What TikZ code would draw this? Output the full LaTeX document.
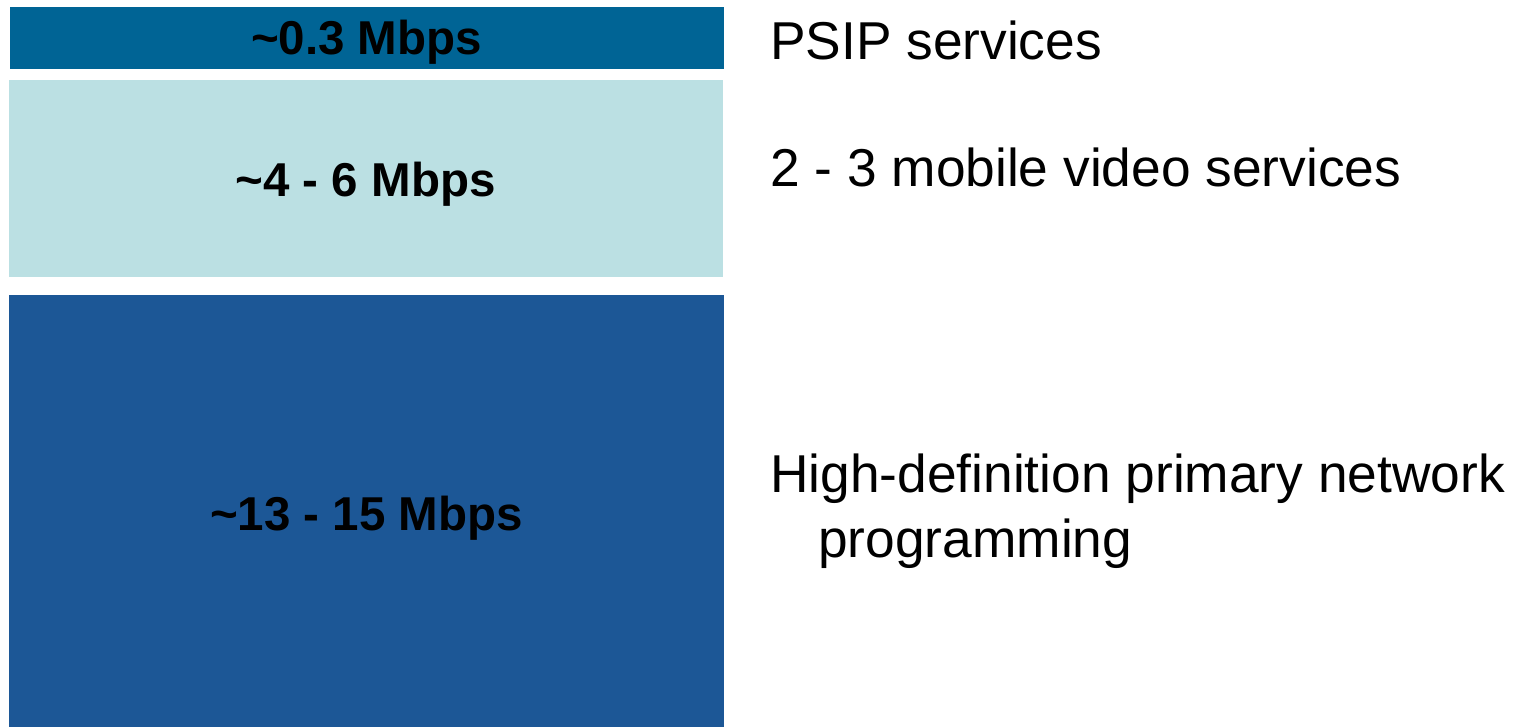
\documentclass[tikz,border=0pt]{standalone}
\usepackage{fontspec}
\setmainfont{Liberation Sans}
\usetikzlibrary{positioning}

\definecolor{psipblue}{RGB}{0,100,149}
\definecolor{mobilecyan}{RGB}{187,224,227}
\definecolor{hdblue}{RGB}{28,87,150}

\begin{document}
\begin{tikzpicture}[x=1pt, y=-1pt, rate/.style={font=\fontsize{47.5}{57}\selectfont\bfseries, text=black, anchor=base, inner sep=0}, service/.style={font=\fontsize{53.3}{64}\selectfont, text=black, anchor=base west, inner sep=0}]
				\useasboundingbox (0,0) rectangle (1514,727);
				% stacked bit-rate bands
				\fill[psipblue] (10,7) rectangle (724,69);
				\fill[mobilecyan] (9,80) rectangle (723,277);
				\fill[hdblue] (9,295) rectangle (724,727);
				\node[rate] (psip) at (366.5,55) {\char`\~0.3 Mbps};
				\node[rate] (mobile) at (365.5,196.5) {\char`\~4 - 6 Mbps};
				\node[rate] (hd) at (366.5,530) {\char`\~13 - 15 Mbps};
				% what each band carries
				\node[service] (psiptext) at (770,60) {PSIP services};
				\node[service] (mobiletext) at (770,187) {2 - 3 mobile video services};
				\node[service] (hdtext) at (770,492) {High-definition primary network};
				\node[service] (hdtext2) at (818,557) {programming};
			\end{tikzpicture}
\end{document}
